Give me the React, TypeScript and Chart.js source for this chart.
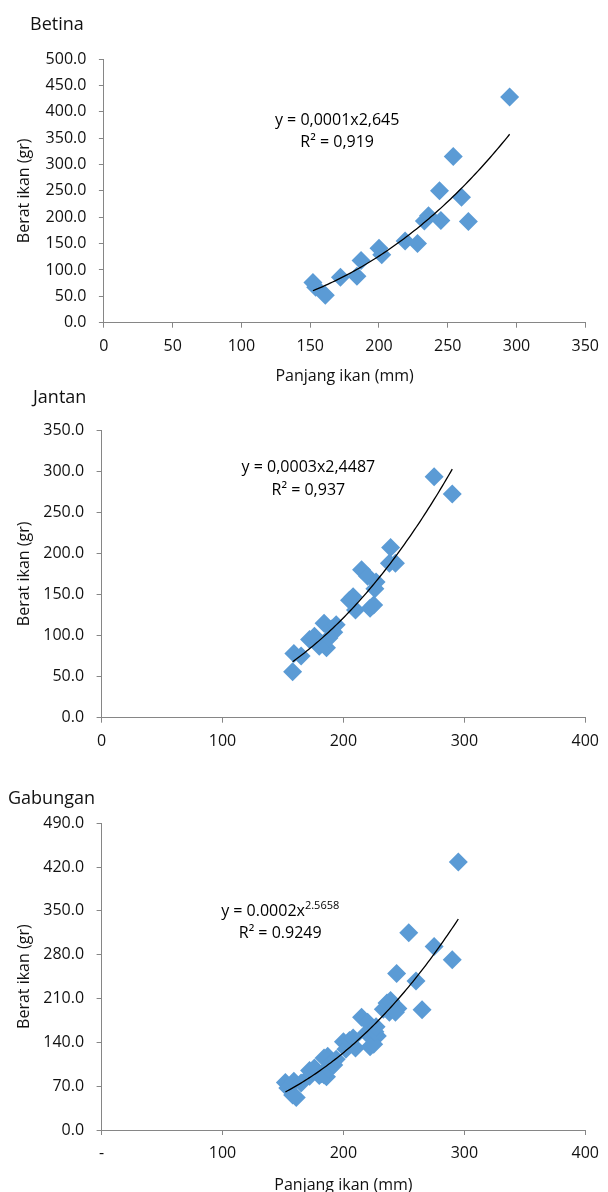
import React, { useEffect, useRef } from "react";
import { Chart, registerables } from "chart.js";
Chart.register(...registerables);

// ---------- DATA ----------
const betinaLength = [152, 154, 161, 172, 184, 187, 200, 202, 219, 228, 233, 236, 245, 244, 254, 260, 265, 295];
const betinaWeight = [76, 67, 52, 86, 88, 118, 141, 129, 155, 150, 193, 203, 194, 250, 315, 238, 192, 428];

const jantanLength = [158, 159, 165, 172, 176, 180, 182, 184, 186, 188, 190, 192, 194, 205, 208, 210, 215, 220, 222, 225, 226, 227, 239, 238, 243, 275, 290];
const jantanWeight = [56, 78, 75, 95, 99, 87, 90, 115, 85, 97, 108, 104, 113, 143, 147, 131, 180, 172, 133, 137, 157, 165, 207, 188, 188, 293, 272];

const gabunganLength = [...betinaLength, ...jantanLength];
const gabunganWeight = [...betinaWeight, ...jantanWeight];

const panelTitles = ["Betina", "Jantan", "Gabungan"];
const xAxisTitle = "Panjang ikan (mm)";
const yAxisTitle = "Berat ikan (gr)";

// axis ranges: [max, step]
const betinaX = [350, 50];
const betinaY = [500, 50];
const jantanX = [400, 100];
const jantanY = [350, 50];
const gabunganX = [400, 100];
const gabunganY = [490, 70];

const betinaEq = ["y = 0,0001x2,645", "", "R² = 0,919"];
const jantanEq = ["y = 0,0003x2,4487", "", "R² = 0,937"];
const gabunganEq = ["y = 0.0002x", "2.5658", "R² = 0.9249"];

// ---------- HELPERS ----------
const FONT = "'Open Sans'";
const AXIS_GRAY = "#868686";
const MARK = "#5B9BD5";

function powerFit(xs: number[], ys: number[]) {
  const n = xs.length;
  let sx = 0, sy = 0, sxx = 0, sxy = 0;
  for (let i = 0; i < n; i++) {
    const lx = Math.log(xs[i]);
    const ly = Math.log(ys[i]);
    sx += lx; sy += ly; sxx += lx * lx; sxy += lx * ly;
  }
  const b = (n * sxy - sx * sy) / (n * sxx - sx * sx);
  const a = Math.exp((sy - b * sx) / n);
  return { a, b };
}

function trendline(xs: number[], ys: number[]) {
  const { a, b } = powerFit(xs, ys);
  const lo = Math.min(...xs);
  const hi = Math.max(...xs);
  const pts = [];
  const steps = 80;
  for (let i = 0; i <= steps; i++) {
    const x = lo + ((hi - lo) * i) / steps;
    pts.push({ x, y: a * Math.pow(x, b) });
  }
  return pts;
}

const eqPlugin = {
  id: "eq",
  afterDatasetsDraw(chart: any, _args: any, opts: any) {
    if (!opts || !opts.lines) return;
    const { ctx, scales } = chart;
    const cx = scales.x.getPixelForValue(opts.x);
    const y1 = scales.y.getPixelForValue(opts.y1);
    const y2 = scales.y.getPixelForValue(opts.y2);
    const [base, sup, r2] = opts.lines;
    ctx.save();
    ctx.fillStyle = "#000";
    ctx.textBaseline = "middle";
    ctx.font = `16px ${FONT}`;
    const wBase = ctx.measureText(base).width;
    ctx.font = `11px ${FONT}`;
    const wSup = sup ? ctx.measureText(sup).width : 0;
    const total = wBase + wSup;
    const left = cx - total / 2;
    ctx.textAlign = "left";
    ctx.font = `16px ${FONT}`;
    ctx.fillText(base, left, y1);
    if (sup) {
      ctx.font = `11px ${FONT}`;
      ctx.fillText(sup, left + wBase, y1 - 6);
    }
    ctx.font = `16px ${FONT}`;
    ctx.textAlign = "center";
    ctx.fillText(r2, cx, y2);
    ctx.restore();
  },
};

type PanelProps = {
  top: number;
  height: number;
  xs: number[];
  ys: number[];
  xr: number[];
  yr: number[];
  padTop: number;
  padRight: number;
  yWidth: number;
  xHeight: number;
  showXTitle: boolean;
  xTitlePadBottom: number;
  dashZero: boolean;
  eq: string[];
  eqPos: number[];
};

function Panel(p: PanelProps) {
  const ref = useRef<HTMLCanvasElement | null>(null);
  useEffect(() => {
    if (!ref.current) return;
    const points = p.xs.map((x, i) => ({ x, y: p.ys[i] }));
    const chart = new Chart(ref.current, {
      type: "scatter",
      data: {
        datasets: [
          {
            type: "line",
            data: trendline(p.xs, p.ys),
            borderColor: "#000",
            borderWidth: 1.3,
            pointRadius: 0,
            fill: false,
            tension: 0,
            showLine: true,
          } as any,
          {
            data: points,
            pointStyle: "rectRot",
            pointRadius: 9.5,
            pointHoverRadius: 9.5,
            backgroundColor: MARK,
            borderColor: MARK,
            borderWidth: 0,
          },
        ],
      },
      options: {
        responsive: false,
        animation: false,
        events: [],
        layout: { padding: { top: p.padTop, right: p.padRight, left: 0, bottom: 0 } },
        plugins: {
          legend: { display: false },
          tooltip: { enabled: false },
          eq: { lines: p.eq, x: p.eqPos[0], y1: p.eqPos[1], y2: p.eqPos[2] },
        } as any,
        scales: {
          x: {
            type: "linear",
            min: 0,
            max: p.xr[0],
            ticks: {
              stepSize: p.xr[1],
              font: { family: FONT, size: 16 },
              color: "#111",
              padding: 9,
              maxRotation: 0,
              callback: (v: any) => (p.dashZero && Number(v) === 0 ? "-" : String(v)),
            },
            grid: { drawOnChartArea: false, drawTicks: true, tickLength: 5, color: AXIS_GRAY },
            border: { display: true, color: AXIS_GRAY },
            title: {
              display: p.showXTitle,
              text: xAxisTitle,
              font: { family: FONT, size: 16 },
              color: "#111",
              padding: { top: 0, bottom: p.xTitlePadBottom },
            },
            afterFit: (s: any) => {
              s.height = p.xHeight;
            },
          },
          y: {
            type: "linear",
            min: 0,
            max: p.yr[0],
            ticks: {
              stepSize: p.yr[1],
              font: { family: FONT, size: 16 },
              color: "#111",
              padding: 12.5,
              callback: (v: any) => Number(v).toFixed(1),
            },
            grid: { drawOnChartArea: false, drawTicks: true, tickLength: 5, color: AXIS_GRAY },
            border: { display: true, color: AXIS_GRAY },
            title: {
              display: true,
              text: yAxisTitle,
              font: { family: FONT, size: 16 },
              color: "#111",
              padding: { top: 14.4, bottom: 0 },
            },
            afterFit: (s: any) => {
              s.width = p.yWidth;
            },
          },
        },
      },
      plugins: [eqPlugin],
    } as any);
    return () => chart.destroy();
  }, []);
  return (
    <canvas
      ref={ref}
      width={608}
      height={p.height}
      style={{ position: "absolute", left: 0, top: p.top, width: 608, height: p.height, display: "block" }}
    />
  );
}

const titleStyle = (left: number, centerY: number): React.CSSProperties => ({
  position: "absolute",
  left,
  top: centerY - 12,
  height: 24,
  lineHeight: "24px",
  fontFamily: FONT,
  fontSize: 18,
  color: "#111",
  whiteSpace: "nowrap",
});

export default function App() {
  return (
    <div
      style={{
        position: "absolute",
        left: 0,
        top: 0,
        width: 608,
        height: 1192,
        overflow: "hidden",
        background: "#fff",
      }}
    >
      <Panel
        top={0}
        height={392}
        xs={betinaLength}
        ys={betinaWeight}
        xr={betinaX}
        yr={betinaY}
        padTop={59}
        padRight={17}
        yWidth={103.9}
        xHeight={69.3}
        showXTitle={true}
        xTitlePadBottom={5.7}
        dashZero={false}
        eq={betinaEq}
        eqPos={[169.6, 384, 342]}
      />
      <Panel
        top={390}
        height={370}
        xs={jantanLength}
        ys={jantanWeight}
        xr={jantanX}
        yr={jantanY}
        padTop={40}
        padRight={15}
        yWidth={101.6}
        xHeight={42.3}
        showXTitle={false}
        xTitlePadBottom={0}
        dashZero={false}
        eq={jantanEq}
        eqPos={[171, 305, 277]}
      />
      <Panel
        top={775}
        height={423}
        xs={gabunganLength}
        ys={gabunganWeight}
        xr={gabunganX}
        yr={gabunganY}
        padTop={48.3}
        padRight={15}
        yWidth={101.6}
        xHeight={68}
        showXTitle={true}
        xTitlePadBottom={3.4}
        dashZero={true}
        eq={gabunganEq}
        eqPos={[147.7, 349, 314]}
      />
      <div style={titleStyle(30, 22.7)}>{panelTitles[0]}</div>
      <div style={titleStyle(33, 396)}>{panelTitles[1]}</div>
      <div style={titleStyle(8, 796.7)}>{panelTitles[2]}</div>
    </div>
  );
}
